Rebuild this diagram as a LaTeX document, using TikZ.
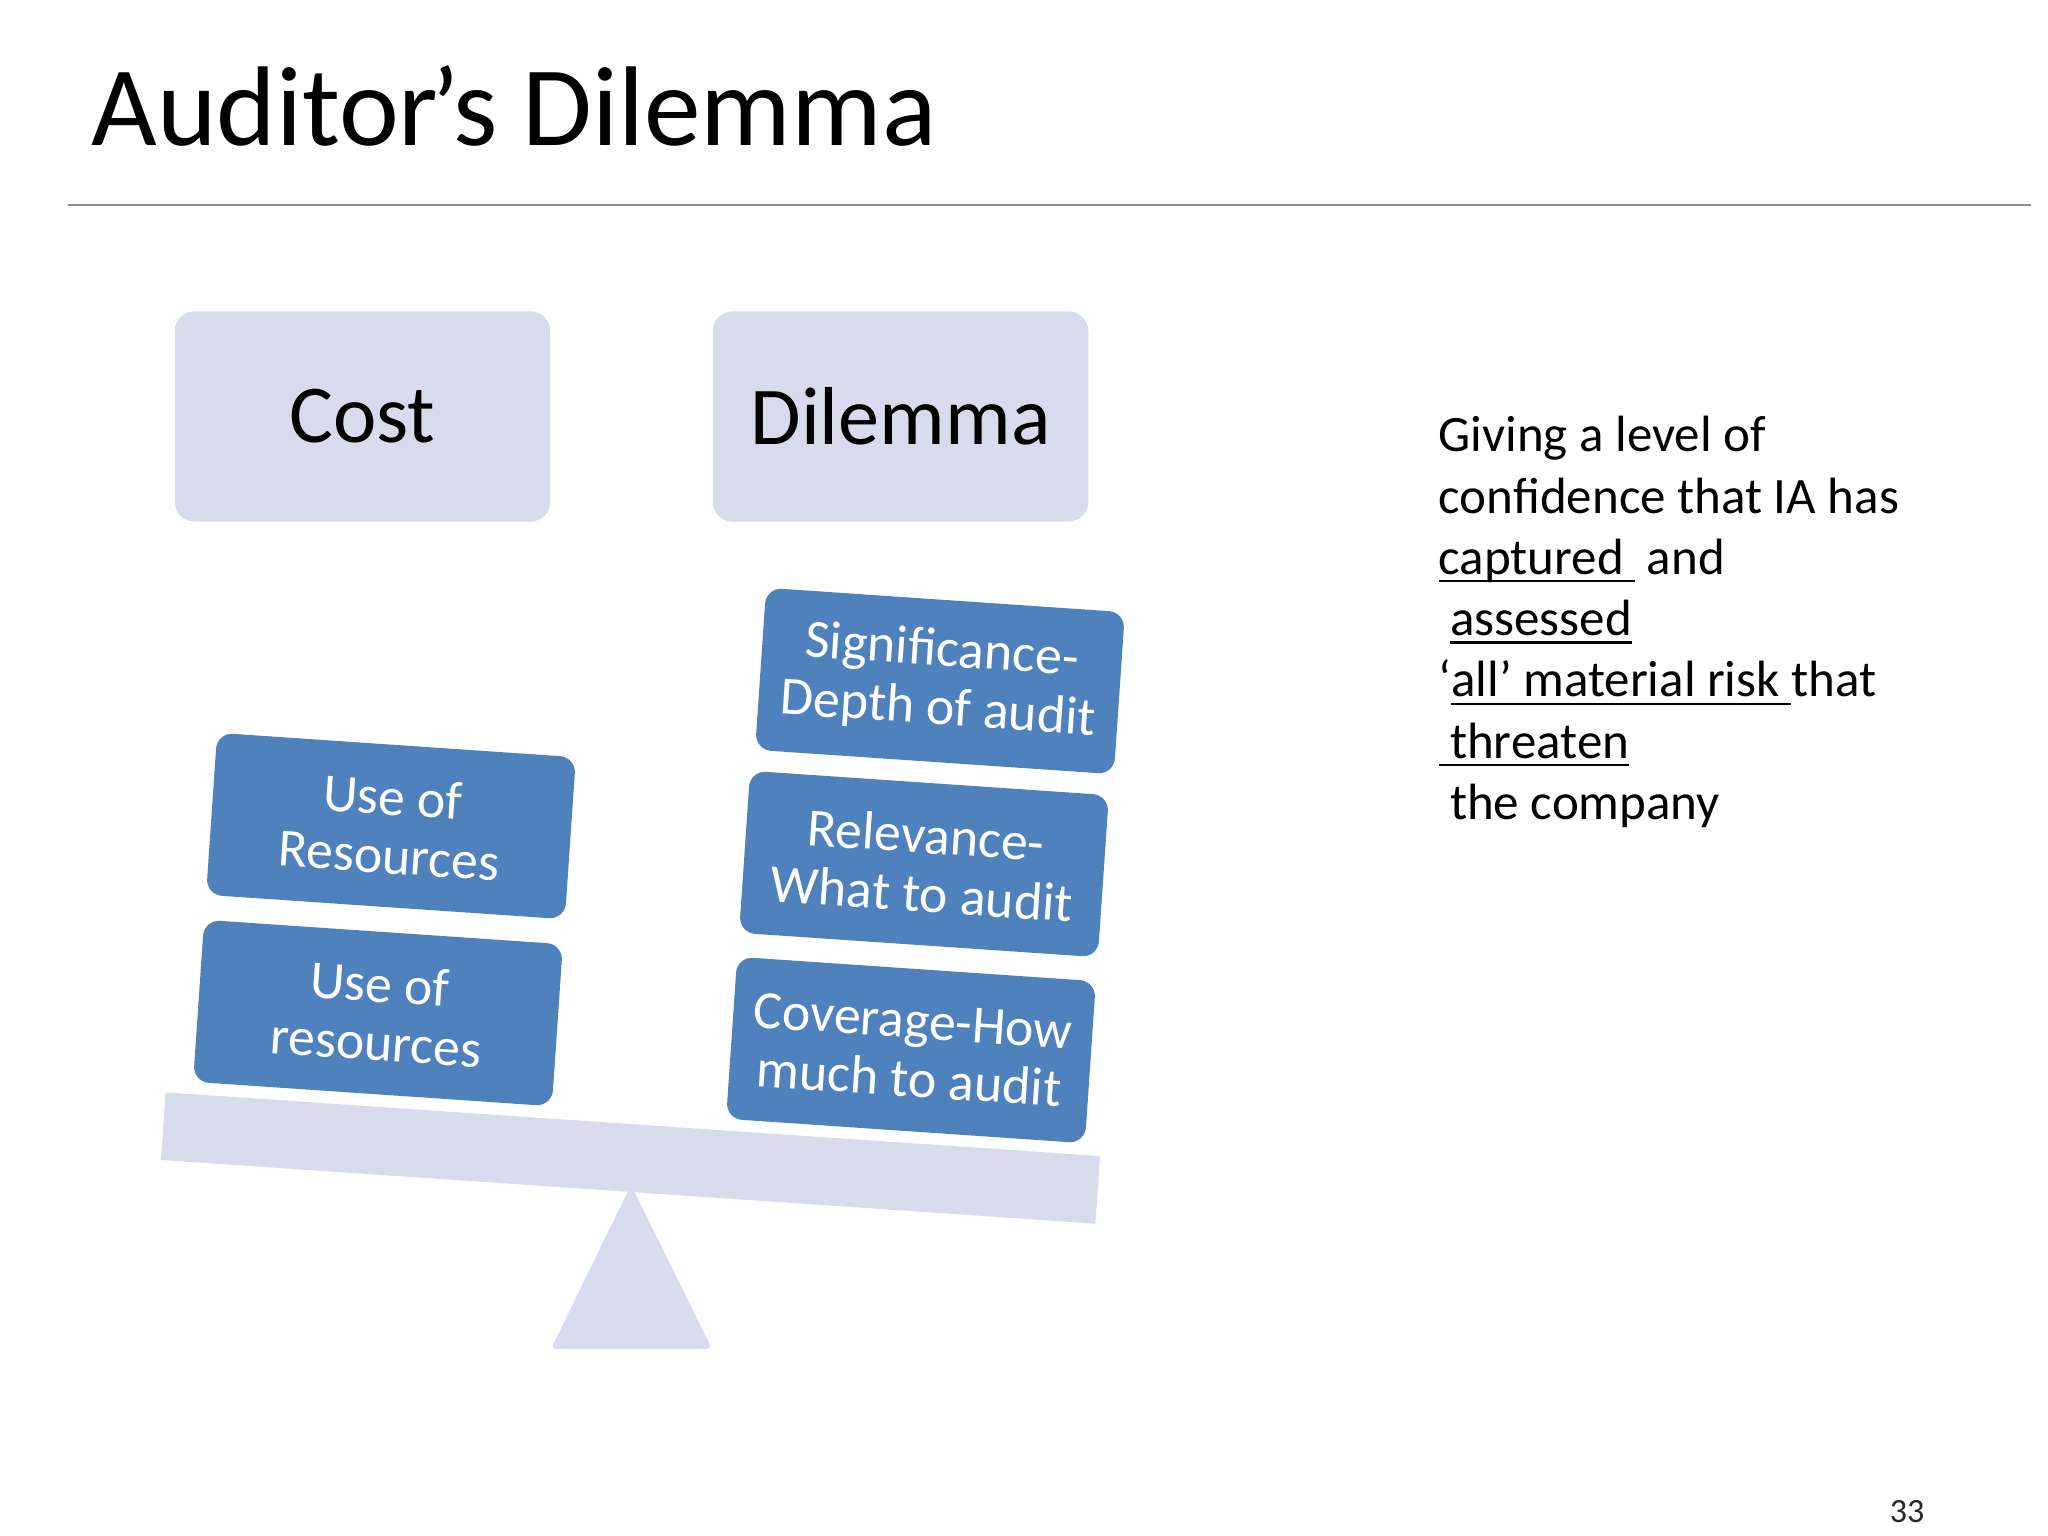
\documentclass[tikz,border=0pt]{standalone}
\usepackage{fontspec}
\setmainfont{Carlito}
\usepackage{tikz}
\definecolor{lav}{RGB}{214,220,235}
\definecolor{boxblue}{RGB}{79,129,189}
\newsavebox\ulbox
\newcommand{\uln}[1]{\sbox\ulbox{#1}\rlap{\rule[-2.8pt]{\wd\ulbox}{0.8pt}}\usebox\ulbox}

\begin{document}
\begin{tikzpicture}[x=0.0048828in,y=-0.0048828in,
 head/.style={rectangle,rounded corners=7pt,fill=lav,minimum width=132.5pt,minimum height=74.2pt,font=\fontsize{29}{35}\selectfont},
 weight/.style={rectangle,rounded corners=5.6pt,fill=boxblue,text=white,minimum width=126.9pt,minimum height=57.3pt,rotate=-3.9,align=center,font=\fontsize{19}{20.7}\selectfont},
 plank/.style={rectangle,fill=lav,minimum width=330.5pt,minimum height=23.9pt,inner sep=0pt,rotate=-3.9}]
\fill[white] (0,0) rectangle (2048,1536);
\useasboundingbox (0,0) rectangle (2048,1536);
\node[anchor=base west,inner sep=0pt,font=\fontsize{40}{48}\selectfont] (title) at (91,146) {Auditor\kern-0.06em’s Dilemma};
\draw[line width=0.7pt,black!45] (68,205) -- (2031,205);
\node[head] (cost) at (362.5,416.5) {Cost};
\node[head] (dilemma) at (900.5,416.5) {Dilemma};
\node[plank] (beam) at (630.5,1158) {};
\fill[lav,rounded corners=2pt] (631,1185) -- (712,1349) -- (551,1349) -- cycle;
\node[weight] (res1) at (391,826) {Use of\\Resources};
\node[weight] (res2) at (378,1013) {Use of\\resources};
\node[weight] (sig) at (940,681) {Significance-\\Depth of audit};
\node[weight] (rel) at (924,864) {Relevance-\\What to audit};
\node[weight] (cov) at (911,1050) {Coverage-How\\much to audit};
\node[anchor=north west,inner sep=0pt,align=left,font=\fontsize{18}{21.6}\selectfont] (note) at (1438,416)
 {Giving a level of\\
  confidence that IA has\\
  \uln{captured~}~and\\
  \mbox{}~\uln{assessed}\\
  ‘\uln{all’ material risk~}that\\
  \uln{\mbox{}~threaten}\\
  \mbox{}~the company};
\node[font=\fontsize{12}{14}\selectfont,text=black!85] (pageno) at (1907,1512) {33};
\end{tikzpicture}
\end{document}
